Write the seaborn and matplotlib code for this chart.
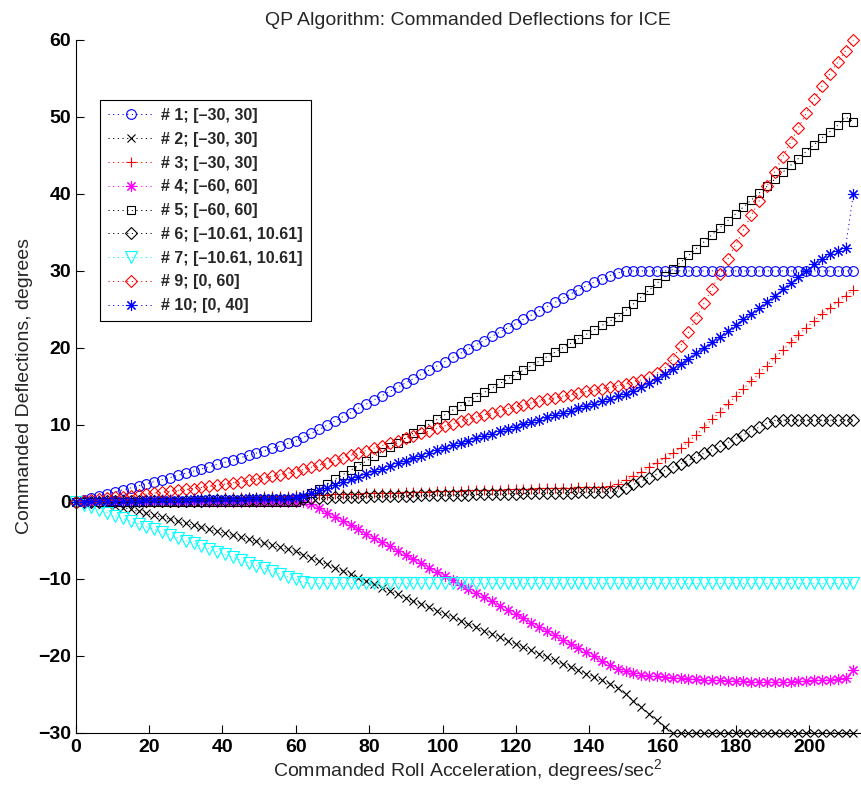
import numpy as np
import pandas as pd
import matplotlib
matplotlib.use('Agg')
import matplotlib.pyplot as plt
import seaborn as sns

# commanded roll acceleration samples (deg/s^2)
roll_acc = np.linspace(0, 212, 100)

# commanded deflections (deg), one list per effector
defl_1 = [0.0, 0.25, 0.5, 0.76, 1.02, 1.28, 1.54, 1.8, 2.07, 2.34,
          2.61, 2.88, 3.15, 3.43, 3.71, 3.99, 4.27, 4.56, 4.85, 5.14,
          5.43, 5.73, 6.03, 6.33, 6.64, 6.95, 7.27, 7.6, 7.95, 8.4,
          8.9, 9.4, 9.95, 10.5, 11.05, 11.6, 12.15, 12.7, 13.25, 13.8,
          14.35, 14.9, 15.45, 16.0, 16.55, 17.1, 17.65, 18.2, 18.75, 19.3,
          19.85, 20.4, 20.95, 21.5, 22.05, 22.6, 23.15, 23.7, 24.25, 24.8,
          25.35, 25.9, 26.45, 27.0, 27.55, 28.05, 28.55, 29.0, 29.4, 29.75,
          29.95, 30, 30, 30, 30, 30, 30, 30, 30, 30,
          30, 30, 30, 30, 30, 30, 30, 30, 30, 30,
          30, 30, 30, 30, 30, 30, 30, 30, 30, 30]
defl_2 = [0, 0, 0, -0.05, -0.25, -0.5, -0.75, -1.0, -1.25, -1.5,
          -1.76, -2.02, -2.28, -2.54, -2.8, -3.06, -3.32, -3.58, -3.84, -4.1,
          -4.36, -4.62, -4.88, -5.14, -5.4, -5.66, -5.92, -6.18, -6.45, -6.85,
          -7.28, -7.71, -8.14, -8.57, -9.0, -9.43, -9.86, -10.29, -10.72, -11.15,
          -11.58, -12.01, -12.44, -12.87, -13.3, -13.73, -14.16, -14.59, -15.02, -15.45,
          -15.88, -16.31, -16.74, -17.17, -17.6, -18.03, -18.46, -18.89, -19.32, -19.75,
          -20.18, -20.61, -21.04, -21.47, -21.9, -22.33, -22.76, -23.2, -23.65, -24.2,
          -25.0, -25.85, -26.7, -27.55, -28.4, -29.25, -30, -30, -30, -30,
          -30, -30, -30, -30, -30, -30, -30, -30, -30, -30,
          -30, -30, -30, -30, -30, -30, -30, -30, -30, -30]
defl_3 = [0, 0.03, 0.06, 0.09, 0.12, 0.15, 0.18, 0.21, 0.23, 0.26,
          0.29, 0.32, 0.35, 0.38, 0.41, 0.44, 0.47, 0.5, 0.53, 0.56,
          0.59, 0.62, 0.65, 0.67, 0.7, 0.73, 0.76, 0.79, 0.82, 0.85,
          0.88, 0.91, 0.94, 0.97, 1.0, 1.03, 1.06, 1.09, 1.11, 1.14,
          1.17, 1.2, 1.23, 1.26, 1.29, 1.32, 1.35, 1.38, 1.41, 1.44,
          1.47, 1.5, 1.53, 1.55, 1.58, 1.61, 1.64, 1.67, 1.7, 1.73,
          1.76, 1.79, 1.82, 1.85, 1.88, 1.91, 1.94, 1.97, 2.0, 2.3,
          2.8, 3.3, 3.9, 4.5, 5.1, 5.7, 6.3, 7.0, 7.8, 8.7,
          9.7, 10.7, 11.7, 12.7, 13.7, 14.7, 15.7, 16.7, 17.7, 18.7,
          19.7, 20.7, 21.7, 22.6, 23.5, 24.4, 25.2, 26.0, 26.8, 27.5]
defl_4 = [0, 0, 0, 0, 0, 0, 0, 0, 0, 0,
          0, 0, 0, 0, 0, 0, 0, 0, 0, 0,
          0, 0, 0, 0, 0, 0, 0, 0, 0, 0,
          -0.3, -0.85, -1.4, -1.95, -2.5, -3.05, -3.6, -4.15, -4.7, -5.25,
          -5.8, -6.35, -6.9, -7.45, -8.0, -8.55, -9.1, -9.65, -10.2, -10.75,
          -11.3, -11.85, -12.4, -12.95, -13.5, -14.05, -14.6, -15.15, -15.7, -16.25,
          -16.8, -17.35, -17.9, -18.45, -19.0, -19.55, -20.1, -20.65, -21.2, -21.7,
          -22.05, -22.3, -22.45, -22.6, -22.7, -22.8, -22.9, -22.95, -23.0, -23.05,
          -23.1, -23.15, -23.2, -23.25, -23.3, -23.35, -23.4, -23.4, -23.45, -23.45,
          -23.4, -23.4, -23.35, -23.3, -23.2, -23.15, -23.1, -23.0, -22.9, -21.9]
defl_5 = [0, 0, 0, 0, 0, 0, 0, 0, 0, 0,
          0, 0, 0, 0, 0, 0, 0, 0, 0, 0,
          0, 0, 0, 0, 0, 0, 0, 0, 0, 0.5,
          1.1, 1.7, 2.3, 2.9, 3.5, 4.1, 4.7, 5.3, 5.9, 6.5,
          7.1, 7.7, 8.3, 8.9, 9.5, 10.1, 10.7, 11.3, 11.9, 12.45,
          13.05, 13.63, 14.21, 14.79, 15.37, 15.95, 16.53, 17.11, 17.69, 18.27,
          18.85, 19.43, 20.01, 20.59, 21.17, 21.75, 22.33, 22.91, 23.49, 24.0,
          24.8, 25.7, 26.6, 27.5, 28.4, 29.3, 30.2, 31.1, 32.0, 32.9,
          33.8, 34.7, 35.6, 36.5, 37.4, 38.3, 39.2, 40.1, 41.0, 41.9,
          42.8, 43.7, 44.6, 45.5, 46.4, 47.3, 48.1, 48.9, 50.0, 49.4]
defl_6 = [0, 0.01, 0.02, 0.03, 0.04, 0.05, 0.06, 0.07, 0.08, 0.09,
          0.1, 0.11, 0.12, 0.13, 0.14, 0.15, 0.16, 0.17, 0.18, 0.19,
          0.2, 0.21, 0.22, 0.23, 0.24, 0.25, 0.26, 0.27, 0.28, 0.4,
          0.45, 0.5, 0.53, 0.56, 0.59, 0.62, 0.65, 0.68, 0.7, 0.72,
          0.74, 0.76, 0.78, 0.8, 0.82, 0.84, 0.86, 0.88, 0.9, 0.92,
          0.94, 0.96, 0.98, 1.0, 1.02, 1.04, 1.06, 1.08, 1.1, 1.12,
          1.14, 1.16, 1.18, 1.2, 1.22, 1.24, 1.26, 1.28, 1.3, 1.4,
          1.8, 2.25, 2.7, 3.15, 3.6, 4.05, 4.5, 4.95, 5.4, 5.85,
          6.3, 6.75, 7.2, 7.7, 8.2, 8.7, 9.2, 9.7, 10.2, 10.55,
          10.61, 10.61, 10.61, 10.61, 10.61, 10.61, 10.61, 10.61, 10.61, 10.61]
defl_7 = [0, -0.36, -0.72, -1.08, -1.44, -1.8, -2.16, -2.52, -2.88, -3.24,
          -3.6, -3.96, -4.32, -4.68, -5.04, -5.4, -5.76, -6.12, -6.48, -6.84,
          -7.2, -7.56, -7.92, -8.28, -8.64, -9.0, -9.36, -9.72, -10.08, -10.44,
          -10.61, -10.61, -10.61, -10.61, -10.61, -10.61, -10.61, -10.61, -10.61, -10.61,
          -10.61, -10.61, -10.61, -10.61, -10.61, -10.61, -10.61, -10.61, -10.61, -10.61,
          -10.61, -10.61, -10.61, -10.61, -10.61, -10.61, -10.61, -10.61, -10.61, -10.61,
          -10.61, -10.61, -10.61, -10.61, -10.61, -10.61, -10.61, -10.61, -10.61, -10.61,
          -10.61, -10.61, -10.61, -10.61, -10.61, -10.61, -10.61, -10.61, -10.61, -10.61,
          -10.61, -10.61, -10.61, -10.61, -10.61, -10.61, -10.61, -10.61, -10.61, -10.61,
          -10.61, -10.61, -10.61, -10.61, -10.61, -10.61, -10.61, -10.61, -10.61, -10.61]
defl_9 = [0, 0.1, 0.2, 0.32, 0.44, 0.56, 0.68, 0.8, 0.9, 1.0,
          1.12, 1.24, 1.36, 1.48, 1.6, 1.72, 1.86, 2.0, 2.15, 2.3,
          2.46, 2.62, 2.79, 2.96, 3.14, 3.33, 3.52, 3.72, 3.93, 4.2,
          4.48, 4.77, 5.07, 5.38, 5.7, 6.02, 6.34, 6.66, 6.98, 7.3,
          7.62, 7.94, 8.26, 8.58, 8.9, 9.22, 9.54, 9.85, 10.15, 10.45,
          10.74, 11.02, 11.3, 11.57, 11.84, 12.1, 12.36, 12.6, 12.85, 13.08,
          13.3, 13.52, 13.73, 13.93, 14.13, 14.33, 14.52, 14.71, 14.9, 15.1,
          15.3, 15.55, 15.85, 16.2, 16.7, 17.4, 18.6, 20.2, 22.0, 23.9,
          25.8, 27.7, 29.6, 31.5, 33.4, 35.3, 37.2, 39.1, 41.0, 42.9,
          44.8, 46.7, 48.6, 50.5, 52.3, 54.0, 55.6, 57.1, 58.6, 60.0]
defl_10 = [0, 0.02, 0.04, 0.06, 0.08, 0.1, 0.12, 0.14, 0.16, 0.18,
           0.2, 0.22, 0.24, 0.26, 0.28, 0.3, 0.32, 0.34, 0.36, 0.38,
           0.4, 0.42, 0.44, 0.46, 0.48, 0.5, 0.52, 0.54, 0.56, 0.75,
           1.1, 1.5, 1.85, 2.2, 2.55, 2.9, 3.25, 3.6, 3.95, 4.3,
           4.64, 4.98, 5.32, 5.66, 6.0, 6.34, 6.68, 7.02, 7.36, 7.66,
           7.96, 8.26, 8.56, 8.86, 9.16, 9.46, 9.76, 10.06, 10.36, 10.66,
           10.96, 11.26, 11.56, 11.86, 12.16, 12.46, 12.76, 13.06, 13.36, 13.7,
           14.05, 14.45, 14.9, 15.4, 15.95, 16.55, 17.2, 17.9, 18.6, 19.3,
           20.0, 20.7, 21.45, 22.2, 22.95, 23.7, 24.45, 25.2, 26.0, 26.8,
           27.6, 28.4, 29.2, 30.05, 30.9, 31.6, 32.2, 32.6, 33.0, 40.0]

labels = ['# 1; [\u201330, 30]', '# 2; [\u201330, 30]', '# 3; [\u201330, 30]',
          '# 4; [\u201360, 60]', '# 5; [\u201360, 60]', '# 6; [\u201310.61, 10.61]',
          '# 7; [\u201310.61, 10.61]', '# 9; [0, 60]', '# 10; [0, 40]']

sns.set_style('ticks')
plt.rcParams['font.family'] = ['Liberation Sans', 'DejaVu Sans']
plt.rcParams['mathtext.fontset'] = 'custom'
plt.rcParams['mathtext.rm'] = 'Liberation Sans'
plt.rcParams['mathtext.it'] = 'Liberation Sans:italic'
plt.rcParams['mathtext.bf'] = 'Liberation Sans:bold'

asterisk = (8, 2, 0)
styles = [('blue', 'o', 7.0), ('black', 'x', 6.0), ('red', '+', 7.5),
          ('magenta', asterisk, 8.0), ('black', 's', 6.4), ('black', 'D', 6.4),
          ('cyan', 'v', 8.2), ('red', 'D', 6.4), ('blue', asterisk, 8.0)]
all_defl = [defl_1, defl_2, defl_3, defl_4, defl_5, defl_6, defl_7, defl_9, defl_10]

fig = plt.figure(figsize=(8.61, 7.92), dpi=100)
ax = fig.add_axes([0.0879, 0.0749, 0.9109, 0.8746])

for defl, lab, (col, mk, ms) in zip(all_defl, labels, styles):
    df = pd.DataFrame({'acc': roll_acc, 'defl': defl})
    sns.lineplot(data=df, x='acc', y='defl', ax=ax, estimator=None, errorbar=None,
                 color=col, marker=mk, markersize=ms, markerfacecolor='none',
                 markeredgecolor=col, markeredgewidth=0.8,
                 linestyle=(0, (1.2, 3.6)), linewidth=0.7, label=lab, clip_on=False)

ax.set_xlim(0, 213.8)
ax.set_ylim(-30, 60)
ax.set_xticks(range(0, 201, 20))
ax.set_yticks(range(-30, 61, 10))
ax.tick_params(direction='in', length=5.8, width=0.8, labelsize=14, colors='black')
ax.tick_params(axis='y', pad=3.2)
ax.tick_params(axis='x', pad=4.5)
for t in ax.get_xticklabels() + ax.get_yticklabels():
    t.set_fontweight('bold')
sns.despine(ax=ax)
for s in ['left', 'bottom']:
    ax.spines[s].set_linewidth(0.8)
    ax.spines[s].set_color('black')

ax.set_title('QP Algorithm: Commanded Deflections for ICE', fontsize=14, pad=11)
ax.set_xlabel('Commanded Roll Acceleration, degrees/sec$^2$', fontsize=14, labelpad=1)
ax.set_ylabel('Commanded Deflections, degrees', fontsize=14, labelpad=4)

leg = ax.legend(loc='upper left', bbox_to_anchor=(100 / 861, 1 - 100 / 792),
                bbox_transform=fig.transFigure, borderaxespad=0,
                prop={'weight': 'bold', 'size': 11.5}, handlelength=2.9,
                handletextpad=0.45, labelspacing=0.55, borderpad=0.5,
                frameon=True, fancybox=False, edgecolor='black', framealpha=1)
leg.get_frame().set_linewidth(0.8)

fig.savefig('out.png', dpi=100)
